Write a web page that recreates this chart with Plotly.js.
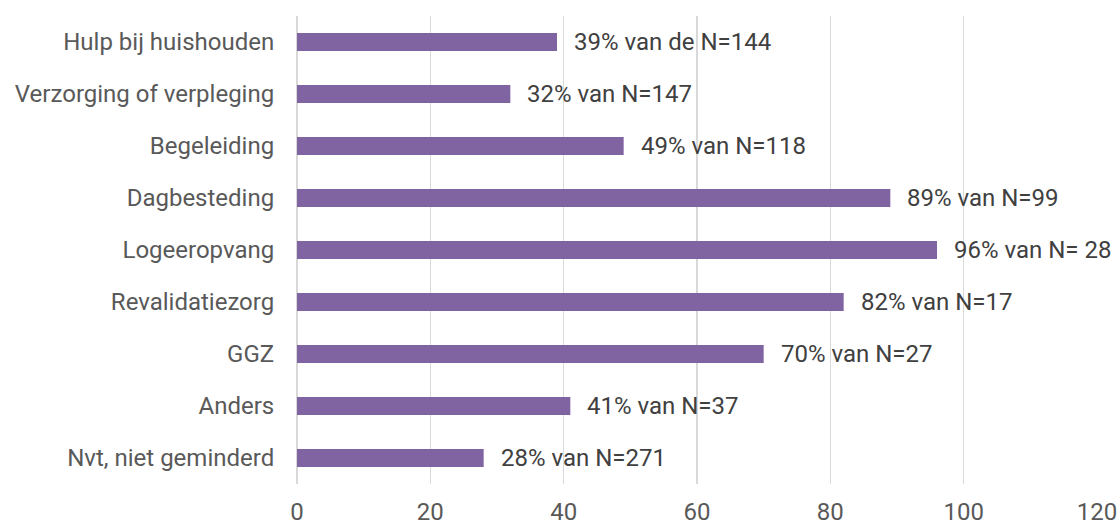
<!DOCTYPE html>
<html>
<head>
<meta charset="utf-8">
<script src="https://cdn.plot.ly/plotly-3.0.1.min.js"></script>
<style>html,body{margin:0;padding:0;background:#fff;}#chart{width:1119px;height:524px;}</style>
</head>
<body>
<div id="chart"></div>
<script>
const categories = ["Hulp bij huishouden","Verzorging of verpleging","Begeleiding","Dagbesteding","Logeeropvang","Revalidatiezorg","GGZ","Anders","Nvt, niet geminderd"];
const values = [39, 32, 49, 89, 96, 82, 70, 41, 28];
const labels = ["39% van de N=144","32% van N=147","49% van N=118","89% van N=99","96% van N= 28","82% van N=17","70% van N=27","41% van N=37","28% van N=271"];
const xTicks = [0, 20, 40, 60, 80, 100, 120];

const trace = {
  type: 'bar',
  orientation: 'h',
  x: values,
  y: categories,
  marker: {color: '#8064A2'},
  hoverinfo: 'none'
};

const annotations = categories.map((c, i) => ({
  x: values[i], y: c, xref: 'x', yref: 'y',
  text: labels[i], showarrow: false,
  xanchor: 'left', yanchor: 'middle', xshift: 15,
  font: {family: 'Roboto, sans-serif', size: 24, color: '#404040'}
}));

const layout = {
  width: 1119, height: 524,
  margin: {l: 297, r: 22, t: 16, b: 40},
  paper_bgcolor: '#ffffff', plot_bgcolor: '#ffffff',
  bargap: 0.654,
  showlegend: false,
  font: {family: 'Roboto, sans-serif', size: 24, color: '#595959'},
  xaxis: {
    range: [0, 120], tickvals: xTicks, ticktext: xTicks.map(String),
    showgrid: true, gridcolor: '#d9d9d9', gridwidth: 1.5,
    zeroline: true, zerolinecolor: '#d9d9d9', zerolinewidth: 1.5,
    showline: false, ticks: '', ticklabelstandoff: 11,
    tickfont: {family: 'Roboto, sans-serif', size: 24, color: '#595959'},
    fixedrange: true
  },
  yaxis: {
    autorange: 'reversed', type: 'category',
    showgrid: false, zeroline: false, showline: false,
    ticks: 'outside', ticklen: 17, tickcolor: 'rgba(0,0,0,0)',
    tickfont: {family: 'Roboto, sans-serif', size: 24, color: '#595959'},
    fixedrange: true
  },
  annotations: annotations
};

Plotly.newPlot('chart', [trace], layout, {displayModeBar: false, staticPlot: true});
</script>
</body>
</html>
